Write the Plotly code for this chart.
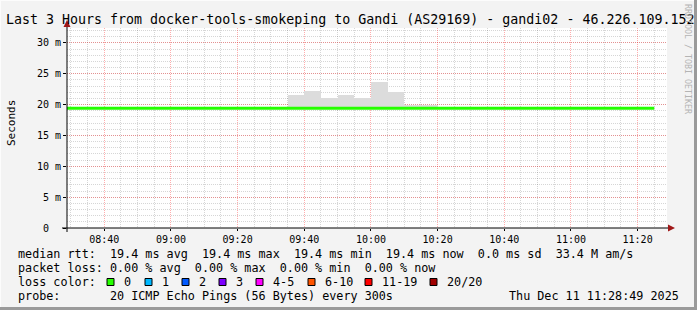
import pandas as pd
import plotly.graph_objects as go

# ---------------- data ----------------
title_text = "Last 3 Hours from docker-tools-smokeping to Gandi (AS29169) - gandi02 - 46.226.109.152"
range_start = "2025-12-11 08:28:49"
range_end = "2025-12-11 11:28:49"

# median RTT (ms) per 5-minute interval, interval starts from 08:25 to 11:20
median_starts = pd.date_range("2025-12-11 08:25", "2025-12-11 11:20", freq="5min")
median_ms = [19.4, 19.4, 19.4, 19.4, 19.4, 19.4, 19.4, 19.4, 19.4, 19.4, 19.4, 19.4,
             19.4, 19.4, 19.4, 19.4, 19.4, 19.4, 19.4, 19.4, 19.4, 19.4, 19.4, 19.4,
             19.4, 19.4, 19.4, 19.4, 19.4, 19.4, 19.4, 19.4, 19.4, 19.4, 19.4, 19.4]

# smoke (min/max ping spread) for intervals where it is visible
smoke_starts = ["2025-12-11 09:35", "2025-12-11 09:40", "2025-12-11 09:45", "2025-12-11 09:50",
                "2025-12-11 09:55", "2025-12-11 10:00", "2025-12-11 10:05", "2025-12-11 10:10",
                "2025-12-11 10:15"]
smoke_min_ms = [19.3, 19.3, 19.3, 19.3, 19.3, 19.3, 19.3, 19.3, 19.3]
smoke_max_ms = [21.6, 22.2, 21.1, 21.6, 21.1, 23.6, 22.1, 20.0, 20.0]

y_tick_vals = [0, 5, 10, 15, 20, 25, 30]
y_tick_text = ["0\u00a0\u00a0", "5 m", "10 m", "15 m", "20 m", "25 m", "30 m"]

legend_rows = [
    "median rtt:  19.4 ms avg  19.4 ms max  19.4 ms min  19.4 ms now  0.0 ms sd  33.4 M am/s",
    "packet loss: 0.00 % avg  0.00 % max  0.00 % min  0.00 % now",
    "loss color:",
    "probe:       20 ICMP Echo Pings (56 Bytes) every 300s",
]
loss_labels = ["0", "1", "2", "3", "4-5", "6-10", "11-19", "20/20"]
loss_colors = ["#26ff00", "#00b8ff", "#0059ff", "#7e00ff", "#ff00ff", "#ff5500", "#ff0000", "#a10000"]
timestamp_text = "Thu Dec 11 11:28:49 2025"

# ---------------- layout helpers ----------------
W, H = 697, 310
PL, PR, PT, PB = 67, 667, 28, 228
FONT = "DejaVu Sans Mono"


def px(x):
    return (x - PL) / (PR - PL)


def py(y):
    return (PB - y) / (PB - PT)


def nb(s):
    return s.replace(" ", "\u00a0")


fig = go.Figure()

# smoke
fig.add_trace(go.Bar(
    x=pd.to_datetime(smoke_starts),
    y=[mx - mn for mx, mn in zip(smoke_max_ms, smoke_min_ms)],
    base=smoke_min_ms,
    width=300000, offset=0,
    marker=dict(color="#dcdcdc", line=dict(width=0)),
    hoverinfo="skip", showlegend=False,
))

# median line (step)
line_x = list(median_starts) + [median_starts[-1] + pd.Timedelta(minutes=5)]
line_y = median_ms + [median_ms[-1]]
fig.add_trace(go.Scatter(
    x=line_x, y=line_y, mode="lines", line=dict(color="#26ff00", width=3, shape="hv"),
    hoverinfo="skip", showlegend=False,
))

major_grid = "rgba(255,0,0,0.32)"
minor_grid = "rgba(0,0,0,0.16)"

fig.update_xaxes(
    type="date", range=[range_start, range_end],
    tick0="2025-12-11 08:00:00", dtick=1200000, tickformat="%H:%M",
    showgrid=True, gridcolor=major_grid, griddash="1px,1px", gridwidth=1,
    minor=dict(dtick=300000, tick0="2025-12-11 08:00:00", showgrid=True,
               gridcolor=minor_grid, griddash="1px,1px", gridwidth=1),
    ticks="outside", ticklen=2, tickcolor="#000000",
    showline=False, zeroline=False,
    tickfont=dict(family=FONT, size=10, color="#000000"),
)
fig.update_yaxes(
    range=[0, 32.43], tickvals=y_tick_vals, ticktext=y_tick_text,
    showgrid=True, gridcolor=major_grid, griddash="1px,1px", gridwidth=1,
    minor=dict(dtick=1, tick0=0, showgrid=True, gridcolor=minor_grid,
               griddash="1px,1px", gridwidth=1),
    ticks="outside", ticklen=3, tickcolor="#000000",
    showline=False, zeroline=False,
    tickfont=dict(family=FONT, size=10, color="#000000"),
)

shapes = []
# axes lines
shapes.append(dict(type="line", xref="paper", yref="paper", x0=px(62), x1=px(670), y0=py(228), y1=py(228),
                   line=dict(color="#000000", width=1)))
shapes.append(dict(type="line", xref="paper", yref="paper", x0=px(67), x1=px(67), y0=py(232), y1=py(25),
                   line=dict(color="#000000", width=1)))
# arrows
arrow_col = "#a01818"
shapes.append(dict(type="path", xref="paper", yref="paper",
                   path=f"M {px(675)},{py(228)} L {px(668)},{py(224.5)} L {px(668)},{py(231.5)} Z",
                   fillcolor=arrow_col, line=dict(width=0)))
shapes.append(dict(type="path", xref="paper", yref="paper",
                   path=f"M {px(67)},{py(20)} L {px(63.5)},{py(27)} L {px(70.5)},{py(27)} Z",
                   fillcolor=arrow_col, line=dict(width=0)))
# outer frame
shapes.append(dict(type="line", xref="paper", yref="paper", x0=px(0), x1=px(697), y0=py(0.5), y1=py(0.5),
                   line=dict(color="#fcfcfc", width=1)))
shapes.append(dict(type="line", xref="paper", yref="paper", x0=px(0.5), x1=px(0.5), y0=py(0), y1=py(310),
                   line=dict(color="#fcfcfc", width=1)))
shapes.append(dict(type="line", xref="paper", yref="paper", x0=px(695.5), x1=px(695.5), y0=py(0), y1=py(310),
                   line=dict(color="#9a9a9a", width=3)))
shapes.append(dict(type="line", xref="paper", yref="paper", x0=px(0), x1=px(697), y0=py(308.5), y1=py(308.5),
                   line=dict(color="#9a9a9a", width=3)))

annotations = []
# title
annotations.append(dict(xref="paper", yref="paper", x=px(4), y=py(19), xanchor="left", yanchor="middle",
                        text=nb(title_text), showarrow=False,
                        font=dict(family=FONT, size=13.3, color="#000000")))
# y axis title
annotations.append(dict(xref="paper", yref="paper", x=px(11), y=py(123), xanchor="center", yanchor="middle",
                        text="Seconds", textangle=-90, showarrow=False,
                        font=dict(family=FONT, size=11, color="#000000")))
# watermark
annotations.append(dict(xref="paper", yref="paper", x=px(688), y=py(59), xanchor="center", yanchor="middle",
                        text=nb("RRDTOOL / TOBI OETIKER"), textangle=90, showarrow=False,
                        font=dict(family=FONT, size=8.3, color="#b4b4b4")))
# legend rows
row_y = [254, 268, 282, 296]
for txt, yy in zip(legend_rows, row_y):
    annotations.append(dict(xref="paper", yref="paper", x=px(16), y=py(yy), xanchor="left", yanchor="middle",
                            text=nb(txt), showarrow=False,
                            font=dict(family=FONT, size=11.75, color="#000000")))
annotations.append(dict(xref="paper", yref="paper", x=px(681), y=py(296), xanchor="right", yanchor="middle",
                        text=nb(timestamp_text), showarrow=False,
                        font=dict(family=FONT, size=11.75, color="#000000")))
# loss colour swatches
swatch_x = [107, 145, 182, 219, 256, 308, 365, 430]
for sx, lab, col in zip(swatch_x, loss_labels, loss_colors):
    shapes.append(dict(type="rect", xref="paper", yref="paper",
                       x0=px(sx), x1=px(sx + 7), y0=py(278.5), y1=py(285.5),
                       fillcolor=col, line=dict(color="#000000", width=1)))
    annotations.append(dict(xref="paper", yref="paper", x=px(sx + 15), y=py(282), xanchor="left",
                            yanchor="middle", text=nb(lab), showarrow=False,
                            font=dict(family=FONT, size=11.75, color="#000000")))

fig.update_layout(
    width=W, height=H, autosize=False,
    margin=dict(l=PL, r=W - PR, t=PT, b=H - PB, pad=0),
    paper_bgcolor="#f3f3f3", plot_bgcolor="#ffffff",
    bargap=0, barmode="overlay",
    shapes=shapes, annotations=annotations,
    showlegend=False,
    font=dict(family=FONT),
)

fig.write_html("out.html")
